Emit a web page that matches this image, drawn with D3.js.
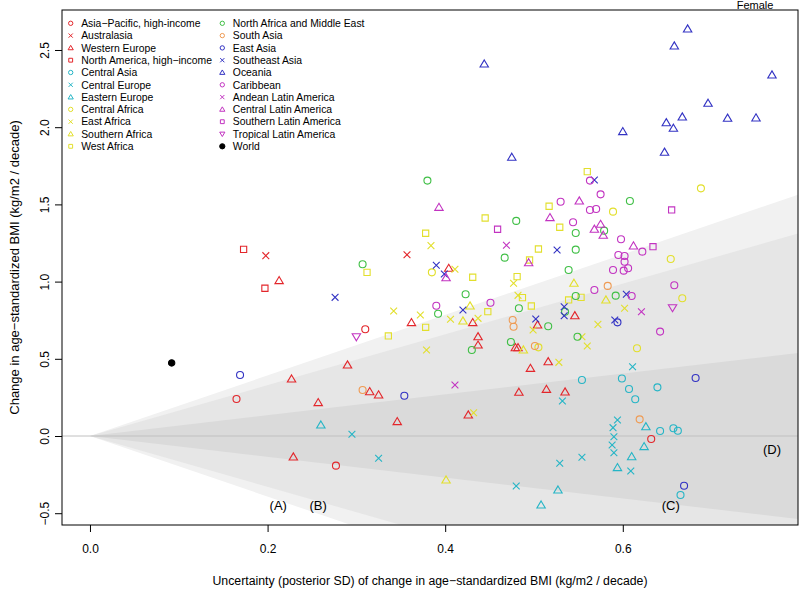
<!DOCTYPE html>
<html>
<head>
<meta charset="utf-8">
<script src="https://cdn.jsdelivr.net/npm/d3@7"></script>
<style>
  body { margin: 0; background: #fff; }
  text { font-family: "Liberation Sans", Arial, Helvetica, sans-serif; fill: #000; }
</style>
</head>
<body>
<svg id="chart" width="800" height="591"></svg>
<script>
// [posterior SD of change, change in BMI per decade]
const apHighIncome = [[0.310, 0.691], [0.165, 0.240], [0.277, -0.192], [0.632, -0.019]];
const australasia = [[0.198, 1.168], [0.357, 1.174]];
const westernEurope = [
  [0.213, 1.006], [0.227, 0.369], [0.290, 0.460], [0.315, 0.287], [0.325, 0.266], [0.257, 0.216],
  [0.346, 0.093], [0.426, 0.136], [0.229, -0.136], [0.404, 1.086], [0.362, 0.734], [0.431, 0.734],
  [0.437, 0.643], [0.437, 0.589], [0.546, 0.779], [0.504, 0.719], [0.479, 0.572], [0.482, 0.572],
  [0.516, 0.481], [0.496, 0.438], [0.483, 0.283], [0.514, 0.302], [0.535, 0.285]
];
const naHighIncome = [[0.173, 1.209], [0.197, 0.957]];
const centralAsia = [
  [0.554, 0.363], [0.599, 0.372], [0.607, 0.304], [0.639, 0.315], [0.614, 0.238],
  [0.642, 0.032], [0.657, 0.050], [0.662, 0.034], [0.665, -0.382]
];
const centralEurope = [
  [0.611, 0.449], [0.532, 0.227], [0.594, 0.104], [0.589, 0.054], [0.590, -0.005], [0.588, -0.058],
  [0.590, -0.108], [0.554, -0.138], [0.529, -0.177], [0.609, -0.227], [0.480, -0.324],
  [0.295, 0.011], [0.325, -0.144]
];
const easternEurope = [
  [0.260, 0.071], [0.626, 0.060], [0.624, -0.069], [0.610, -0.134], [0.594, -0.205],
  [0.527, -0.350], [0.508, -0.447]
];
const centralAfrica = [
  [0.688, 1.604], [0.589, 1.453], [0.654, 1.146], [0.667, 0.892], [0.385, 1.060],
  [0.505, 0.574], [0.616, 0.568]
];
const eastAfrica = [
  [0.384, 1.233], [0.411, 1.080], [0.342, 0.810], [0.372, 0.784], [0.406, 0.756], [0.437, 0.762],
  [0.379, 0.557], [0.432, 0.151], [0.477, 0.989], [0.482, 0.911], [0.602, 0.827], [0.499, 0.687],
  [0.572, 0.723], [0.554, 0.643], [0.560, 0.583], [0.528, 0.477]
];
const southernAfrica = [[0.545, 0.989], [0.581, 0.881], [0.428, 0.842], [0.420, 0.745], [0.488, 0.557], [0.401, -0.285]];
const westAfrica = [
  [0.560, 1.712], [0.517, 1.488], [0.445, 1.412], [0.529, 1.352], [0.505, 1.211], [0.495, 1.140],
  [0.481, 1.032], [0.487, 0.896], [0.553, 0.898], [0.497, 0.842], [0.539, 0.881], [0.448, 0.805],
  [0.378, 1.313], [0.431, 1.028], [0.378, 0.704], [0.336, 0.648], [0.312, 1.060]
];
const northAfricaME = [
  [0.380, 1.654], [0.307, 1.112], [0.423, 0.918], [0.392, 0.792], [0.430, 0.557], [0.480, 1.393],
  [0.547, 1.315], [0.579, 1.330], [0.608, 1.522], [0.547, 1.207], [0.467, 1.155], [0.539, 1.075],
  [0.592, 0.909], [0.547, 0.907], [0.483, 0.827], [0.535, 0.805], [0.516, 0.711], [0.474, 0.609],
  [0.549, 0.643]
];
const southAsia = [[0.583, 0.972], [0.476, 0.751], [0.477, 0.708], [0.501, 0.583], [0.307, 0.298], [0.619, 0.108]];
const eastAsia = [[0.169, 0.395], [0.354, 0.261], [0.594, 0.736], [0.682, 0.376], [0.669, -0.322]];
const southeastAsia = [
  [0.276, 0.898], [0.390, 1.106], [0.399, 1.049], [0.420, 0.816], [0.526, 1.205], [0.568, 1.658],
  [0.604, 0.918], [0.534, 0.837], [0.534, 0.779], [0.502, 0.758], [0.591, 0.751]
];
const oceania = [
  [0.444, 2.409], [0.475, 1.805], [0.600, 1.971], [0.647, 1.838], [0.649, 2.029], [0.657, 1.993],
  [0.658, 2.526], [0.667, 2.066], [0.673, 2.636], [0.696, 2.155], [0.718, 2.058], [0.750, 2.060],
  [0.768, 2.338]
];
const caribbean = [
  [0.563, 1.654], [0.575, 1.565], [0.530, 1.517], [0.563, 1.464], [0.570, 1.470], [0.544, 1.384],
  [0.598, 1.274], [0.622, 1.194], [0.595, 1.172], [0.602, 1.166], [0.602, 1.129], [0.589, 1.075],
  [0.601, 1.071], [0.606, 1.086], [0.658, 0.976], [0.568, 0.946], [0.610, 0.907], [0.451, 0.863],
  [0.642, 0.676], [0.390, 0.844]
];
const andeanLA = [[0.469, 1.235], [0.621, 0.805], [0.411, 0.330]];
const centralLA = [
  [0.551, 1.522], [0.518, 1.414], [0.575, 1.371], [0.568, 1.339], [0.578, 1.300], [0.612, 1.231],
  [0.494, 1.122], [0.393, 1.481], [0.401, 1.025]
];
const southernLA = [[0.655, 1.464], [0.459, 1.339], [0.634, 1.226]];
const tropicalLA = [[0.656, 0.831], [0.300, 0.643]];
const world = [[0.092, 0.473]];

const regionNames = [
  "Asia-Pacific, high-income", "Australasia", "Western Europe", "North America, high-income",
  "Central Asia", "Central Europe", "Eastern Europe", "Central Africa", "East Africa",
  "Southern Africa", "West Africa",
  "North Africa and Middle East", "South Asia", "East Asia", "Southeast Asia", "Oceania",
  "Caribbean", "Andean Latin America", "Central Latin America", "Southern Latin America",
  "Tropical Latin America", "World"
];
const regionValues = [
  apHighIncome, australasia, westernEurope, naHighIncome, centralAsia, centralEurope, easternEurope,
  centralAfrica, eastAfrica, southernAfrica, westAfrica,
  northAfricaME, southAsia, eastAsia, southeastAsia, oceania, caribbean, andeanLA, centralLA,
  southernLA, tropicalLA, world
];

const xTicks = [0.0, 0.2, 0.4, 0.6];
const yTicks = [-0.5, 0.0, 0.5, 1.0, 1.5, 2.0, 2.5];
const bandZ = [1.96, 1.645, 0.674];   // funnel half-widths (multiples of SD)
const annotations = [
  { label: "(A)", x: 0.212, y: -0.447 },
  { label: "(B)", x: 0.257, y: -0.447 },
  { label: "(C)", x: 0.654, y: -0.447 },
  { label: "(D)", x: 0.768, y: -0.084 }
];

// styling
const RED = "#e3262b", CYAN = "#25b5c6", YELLOW = "#e2df2c", GREEN = "#3fbf45",
  ORANGE = "#ef9a52", BLUE = "#3232c3", MAGENTA = "#c233c1";
const regionStyle = [
  [RED, "circle"], [RED, "x"], [RED, "triangle"], [RED, "square"],
  [CYAN, "circle"], [CYAN, "x"], [CYAN, "triangle"],
  [YELLOW, "circle"], [YELLOW, "x"], [YELLOW, "triangle"], [YELLOW, "square"],
  [GREEN, "circle"], [ORANGE, "circle"], [BLUE, "circle"], [BLUE, "x"], [BLUE, "triangle"],
  [MAGENTA, "circle"], [MAGENTA, "x"], [MAGENTA, "triangle"], [MAGENTA, "square"], [MAGENTA, "down"],
  ["#000", "dot"]
];
const bandColors = ["#f1f1f1", "#e6e6e6", "#dadada"];

const margin = { top: 10, right: 2, bottom: 66, left: 62 };
const width = 800, height = 591;

const svg = d3.select("#chart");

const x = d3.scaleLinear()
  .domain([-0.0315, 0.7973])
  .range([margin.left, width - margin.right]);

const y = d3.scaleLinear()
  .domain([-0.5764, 2.759])
  .range([height - margin.bottom, margin.top]);

svg.append("defs").append("clipPath").attr("id", "plot-clip")
  .append("rect")
  .attr("x", margin.left).attr("y", margin.top)
  .attr("width", width - margin.left - margin.right)
  .attr("height", height - margin.top - margin.bottom);

const plot = svg.append("g").attr("clip-path", "url(#plot-clip)");

// uncertainty funnels
const xEnd = x.domain()[1] + 0.05;
const line = d3.line().x(d => x(d[0])).y(d => y(d[1]));
plot.selectAll(".band")
  .data(bandZ)
  .join("path")
  .attr("class", "band")
  .attr("fill", (d, i) => bandColors[i])
  .attr("d", z => line([[0, 0], [xEnd, z * xEnd], [xEnd, -z * xEnd]]) + "Z");

plot.append("line")
  .attr("x1", x.range()[0]).attr("x2", x.range()[1])
  .attr("y1", y(0)).attr("y2", y(0))
  .attr("stroke", "#c0c0c0").attr("stroke-width", 1);

function symbolPath(shape, k) {
  const p = d3.path();
  if (shape === "circle" || shape === "dot") {
    p.moveTo(3.5 * k, 0); p.arc(0, 0, 3.5 * k, 0, 2 * Math.PI);
  } else if (shape === "triangle") {
    p.moveTo(0, -4.1 * k); p.lineTo(4.2 * k, 3 * k); p.lineTo(-4.2 * k, 3 * k); p.closePath();
  } else if (shape === "down") {
    p.moveTo(0, 4.1 * k); p.lineTo(4.2 * k, -3 * k); p.lineTo(-4.2 * k, -3 * k); p.closePath();
  } else if (shape === "square") {
    p.rect(-3.1 * k, -3.1 * k, 6.2 * k, 6.2 * k);
  } else if (shape === "x") {
    p.moveTo(-3.4 * k, -3.4 * k); p.lineTo(3.4 * k, 3.4 * k);
    p.moveTo(-3.4 * k, 3.4 * k); p.lineTo(3.4 * k, -3.4 * k);
  }
  return p.toString();
}

// points
regionValues.forEach((vals, i) => {
  const [color, shape] = regionStyle[i];
  plot.append("g").selectAll("path")
    .data(vals)
    .join("path")
    .attr("transform", d => `translate(${x(d[0])},${y(d[1])})`)
    .attr("d", symbolPath(shape, shape === "dot" ? 0.9 : 1))
    .attr("fill", shape === "dot" ? color : "none")
    .attr("stroke", color)
    .attr("stroke-width", 1.1);
});

// letters
svg.append("g").selectAll("text")
  .data(annotations)
  .join("text")
  .attr("x", d => x(d.x))
  .attr("y", d => y(d.y))
  .attr("dy", "0.35em")
  .attr("text-anchor", "middle")
  .attr("font-size", 13)
  .text(d => d.label);

// box
svg.append("rect")
  .attr("x", margin.left).attr("y", margin.top)
  .attr("width", width - margin.left - margin.right)
  .attr("height", height - margin.top - margin.bottom)
  .attr("fill", "none").attr("stroke", "#000").attr("stroke-width", 1);

// axes
const xAxis = svg.append("g")
  .attr("transform", `translate(0,${height - margin.bottom})`)
  .call(d3.axisBottom(x).tickValues(xTicks).tickSize(7).tickPadding(12).tickFormat(d3.format(".1f")));
xAxis.select(".domain").remove();
xAxis.selectAll("text").attr("font-size", 12).attr("font-family", null);

const yAxis = svg.append("g")
  .attr("transform", `translate(${margin.left},0)`)
  .call(d3.axisLeft(y).tickValues(yTicks).tickSize(7).tickFormat(d3.format(".1f")));
yAxis.select(".domain").remove();
yAxis.selectAll("text")
  .attr("x", 0).attr("dy", 0)
  .attr("transform", "translate(-13.5,0) rotate(-90)")
  .attr("text-anchor", "middle")
  .attr("font-size", 12).attr("font-family", null);

svg.append("text")
  .attr("x", (x.range()[0] + x.range()[1]) / 2)
  .attr("y", 585)
  .attr("text-anchor", "middle")
  .attr("font-size", 12.3)
  .text("Uncertainty (posterior SD) of change in age\u2212standardized BMI (kg/m2 / decade)");

svg.append("text")
  .attr("transform", `translate(18.5,${(y.range()[0] + y.range()[1]) / 2}) rotate(-90)`)
  .attr("text-anchor", "middle")
  .attr("font-size", 13)
  .text("Change in age\u2212standardized BMI (kg/m2 / decade)");

svg.append("text")
  .attr("x", 755).attr("y", 8.5)
  .attr("text-anchor", "middle")
  .attr("font-size", 11)
  .text("Female");

// legend, two columns
const legend = svg.append("g");
const perCol = 11;
regionNames.forEach((name, i) => {
  const col = Math.floor(i / perCol), row = i % perCol;
  const sx = col === 0 ? 70.7 : 222.3;
  const ly = 23.3 + row * 12.3;
  const [color, shape] = regionStyle[i];
  legend.append("path")
    .attr("transform", `translate(${sx},${ly})`)
    .attr("d", symbolPath(shape, shape === "dot" ? 0.75 : 0.62))
    .attr("fill", shape === "dot" ? color : "none")
    .attr("stroke", color)
    .attr("stroke-width", 1);
  legend.append("text")
    .attr("x", sx + 10.5)
    .attr("y", ly)
    .attr("dy", "0.36em")
    .attr("font-size", 10.4)
    .text(name.replace("-", "\u2212"));
});
</script>
</body>
</html>
